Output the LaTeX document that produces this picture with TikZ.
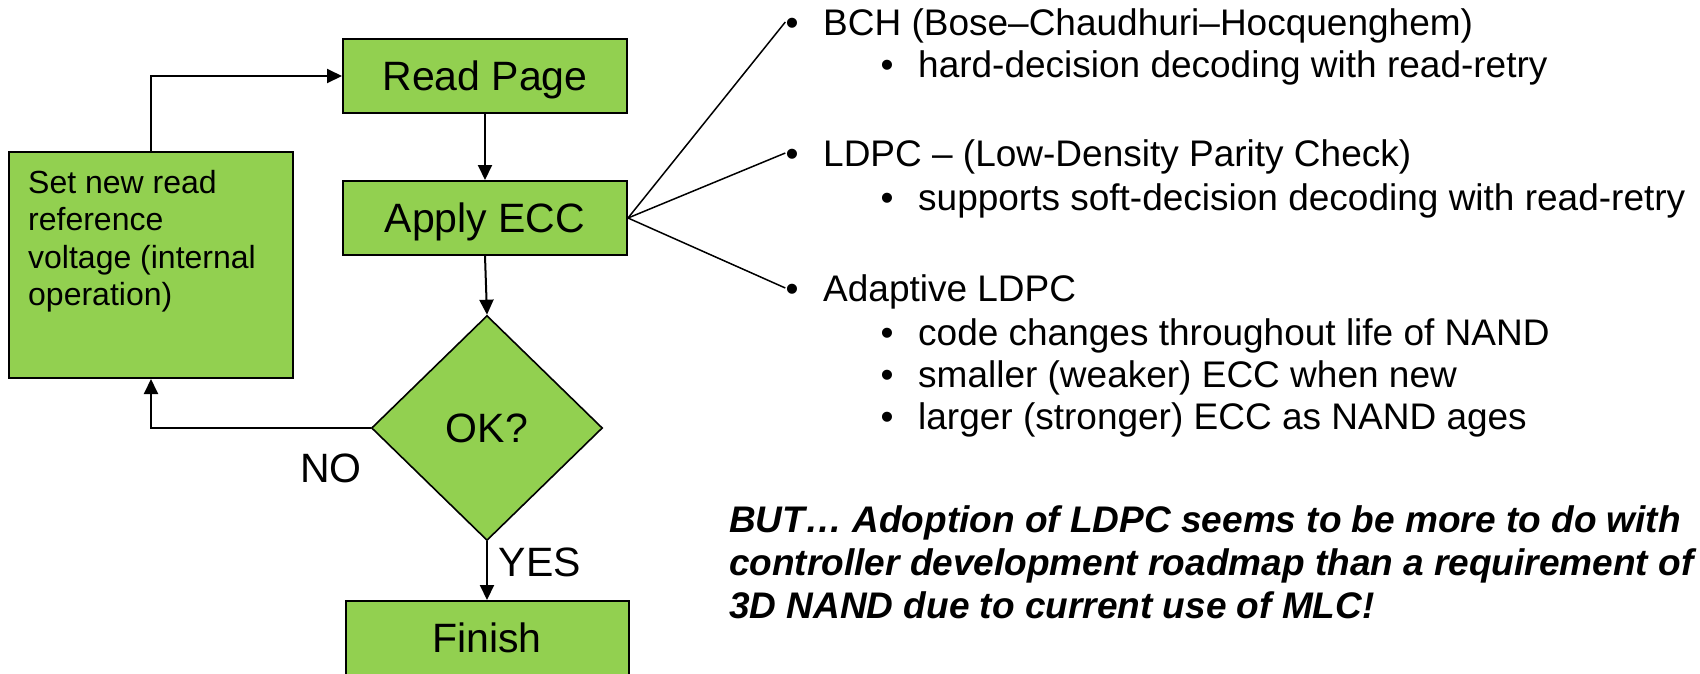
\documentclass[tikz,border=0pt]{standalone}
\usepackage{fontspec}
\setmainfont{Liberation Sans}
\usetikzlibrary{shapes.geometric,arrows.meta}
\definecolor{flowgreen}{HTML}{92D050}
\begin{document}
\begin{tikzpicture}[x=1pt,y=-1pt,
  box/.style={draw=black, line width=2pt, fill=flowgreen, inner sep=0pt,
    minimum width=284pt, minimum height=74pt,
    font=\fontsize{41}{48}\selectfont, text height=29pt, text depth=0pt},
  decision/.style={diamond, draw=black, line width=1.6pt, fill=flowgreen, inner sep=0pt,
    minimum width=231pt, minimum height=225pt,
    font=\fontsize{41}{48}\selectfont, text height=29pt, text depth=0pt},
  flowarrow/.style={-{Triangle[length=15pt,width=14pt]}, line width=2pt},
  leader/.style={line width=1.5pt},
  lbl/.style={inner sep=0pt, font=\fontsize{41}{48}\selectfont},
  bul/.style={inner sep=0pt, anchor=base, text height=26pt, text depth=0pt,
    font=\fontsize{37}{43}\selectfont},
  item/.style={inner sep=0pt, anchor=base west, font=\fontsize{37}{43}\selectfont},
  note/.style={inner sep=0pt, anchor=north west, align=left,
    font=\fontsize{37}{43}\selectfont\bfseries\itshape}
]
\useasboundingbox (0,0) rectangle (1700,673);

% flowchart
\node[box] (read) at (485,76) {Read Page};
\node[box] (ecc) at (485,218) {Apply ECC};
\node[decision] (ok) at (487,428) {OK?};
\node[box, minimum width=283pt] (fin) at (487,638) {Finish};
\node[box, minimum height=226pt] (setv) at (151,265) {};
\node[inner sep=0pt, anchor=north west, align=left,
  font=\fontsize{32}{37.5}\selectfont] (setvtxt) at (28,170)
  {Set new read\\reference\\voltage (internal\\operation)};

\draw[flowarrow] (read.south) -- (ecc.north);
\draw[flowarrow] (ecc.south) -- (ok.north);
\draw[flowarrow] (ok.south) -- (fin.north);
\draw[flowarrow] (ok.west) -| (setv.south);
\draw[flowarrow] (setv.north) |- (read.west);

\node[lbl] (no) at (331,468) {NO};
\node[lbl] (yes) at (540,562) {YES};

% ECC options
\node[bul] (b1) at (792,35) {•};
\node[item] (t1) at (823,35) {BCH (Bose–Chaudhuri–Hocquenghem)};
\node[bul] (s1) at (887,77) {•};
\node[item] (u1) at (918,77) {hard-decision decoding with read-retry};

\node[bul] (b2) at (792,166) {•};
\node[item] (t2) at (823,166) {LDPC – (Low-Density Parity Check)};
\node[bul] (s2) at (887,210) {•};
\node[item] (u2) at (918,210) {supports soft-decision decoding with read-retry};

\node[bul] (b3) at (792,301) {•};
\node[item] (t3) at (823,301) {Adaptive LDPC};
\node[bul] (s3) at (887,345) {•};
\node[item] (u3) at (918,345) {code changes throughout life of NAND};
\node[bul] (s4) at (887,387) {•};
\node[item] (u4) at (918,387) {smaller (weaker) ECC when new};
\node[bul] (s5) at (887,429) {•};
\node[item] (u5) at (918,429) {larger (stronger) ECC as NAND ages};

\draw[leader] (ecc.east) -- (b1.west);
\draw[leader] (ecc.east) -- (b2.west);
\draw[leader] (ecc.east) -- (b3.west);

% closing remark
\node[note] (remark) at (729,505)
  {BUT… Adoption of LDPC seems to be more to do with\\
   controller development roadmap than a requirement of\\
   3D NAND due to current use of MLC!};
\end{tikzpicture}
\end{document}
